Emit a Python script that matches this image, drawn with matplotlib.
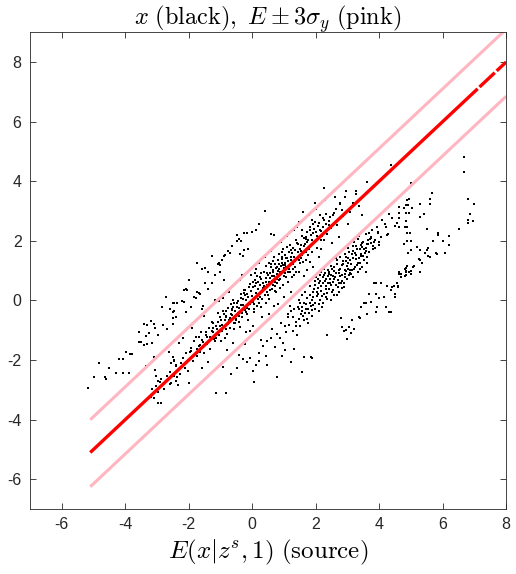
import numpy as np
import matplotlib
matplotlib.use('Agg')
import matplotlib.pyplot as plt

plt.rcParams['mathtext.fontset'] = 'cm'
plt.rcParams['font.family'] = ['Liberation Sans', 'DejaVu Sans']
plt.rcParams['axes.unicode_minus'] = False

# samples x against E(x|z^s,1) (a thinned-out copy)
# main band, along the diagonal
main_pts = [
    (-0.23, 0.34), (0.47, 0.91), (1.12, 0.96), (-0.84, -0.53), (0.05, -0.27), (1.63, 2.08), (-1.27, -1.04), (0.81, 1.36), (0.26, 0.12), (-0.52, -0.61),
    (2.14, 2.37), (-1.93, -1.58), (1.36, 1.32), (0.63, 0.38), (-0.08, 0.54), (-2.41, -2.17), (0.87, 0.73), (1.82, 2.46), (-0.66, -0.13), (0.24, 0.77),
    (-1.13, -1.26), (2.58, 2.94), (1.21, 1.69), (-0.37, -0.88), (0.42, 0.63), (-1.62, -1.07), (0.97, 0.52), (0.14, -0.18), (2.27, 2.03), (-0.91, -0.34),
    (1.54, 1.87), (-2.03, -2.36), (0.72, 1.23), (-0.28, 0.04), (1.88, 1.61), (-1.43, -1.47), (0.03, 0.44), (2.76, 3.27), (-2.68, -2.53), (1.33, 0.86),
    (0.51, 0.17), (-0.57, -0.97), (1.74, 2.31), (-0.98, -0.64), (0.18, 0.06), (2.42, 2.66), (-1.77, -1.24), (0.93, 1.47), (-0.16, -0.46), (1.07, 1.43),
    (-2.96, -3.08), (0.58, 1.13), (-0.49, -0.22), (2.04, 2.17), (-1.22, -0.76), (1.38, 2.02), (0.33, 0.57), (-2.17, -1.93), (0.76, 0.28), (-0.79, -1.12),
    (1.57, 1.53), (0.09, 0.68), (-1.53, -1.77), (2.23, 2.76), (0.44, -0.07), (-0.12, 0.13), (1.03, 1.18), (-2.47, -2.04), (1.78, 1.73), (-0.73, -0.67),
    (0.68, 0.83), (3.07, 2.97), (-1.68, -1.53), (1.24, 0.77), (-0.33, -0.57), (0.54, 1.27), (2.47, 2.43), (-1.04, -1.16), (1.52, 1.24), (-0.03, 0.87),
    (-2.13, -2.27), (0.86, 1.04), (-0.62, 0.03), (1.93, 2.57), (-1.33, -1.63), (0.17, 0.37), (2.67, 2.53), (-0.43, -0.26), (1.28, 1.77), (-2.87, -2.63),
    (0.62, 0.66), (-0.94, -0.83), (1.69, 1.37), (0.28, -0.23), (-1.58, -1.34), (2.13, 2.86), (1.14, 0.63), (-0.24, 0.17), (-1.07, -0.43), (0.83, 1.57),
    (1.43, 1.64), (-0.54, -0.37), (2.33, 2.58), (-2.27, -2.46), (0.37, 0.97), (-0.77, -0.24), (1.62, 1.83), (0.07, -0.38), (-1.37, -0.93), (3.27, 3.56),
    (0.73, 0.47), (-0.06, -0.13), (0.98, 1.72), (-1.87, -2.03), (2.03, 1.76), (0.48, 0.53), (-0.68, -0.44), (1.17, 1.07), (-2.57, -2.77), (0.92, 1.16),
    (-0.27, 0.36), (1.77, 2.04), (-1.18, -1.37), (0.23, 0.23), (2.63, 3.07), (-0.58, -0.77), (1.47, 1.36), (-0.02, 0.16), (-1.73, -1.87), (0.57, 0.93),
    (2.18, 2.33), (-1.02, -0.87), (1.27, 1.23), (-0.36, 0.07), (0.78, 0.57), (-1.97, -1.73), (1.72, 1.97), (0.32, 0.27), (-0.87, -1.27), (2.87, 2.83),
    (1.08, 1.13), (-0.17, -0.24), (-1.47, -1.17), (0.43, 0.76), (1.92, 2.27), (-0.53, -0.76), (1.04, 0.93), (-2.77, -2.97), (0.67, 1.03), (-1.28, -0.73),
    (1.37, 0.97), (0.12, 0.26), (2.37, 2.24), (-0.71, -0.93), (0.88, 0.43), (-1.83, -1.36), (1.58, 2.37), (-0.13, -0.67), (0.53, 0.04), (1.97, 2.63),
    (-1.12, -0.97), (1.23, 1.47), (-0.32, -0.43), (0.79, 0.88), (-2.37, -2.57), (1.83, 1.28), (0.19, 0.63), (-0.83, -0.57), (1.53, 1.67), (-1.63, -1.73),
    (0.64, 0.97), (2.53, 2.87), (0.02, -0.04), (-1.23, -1.07), (1.02, 1.53), (-0.63, -0.27), (1.32, 1.47), (0.27, 0.93), (-2.08, -1.77), (1.68, 1.63),
    (-0.42, -0.73), (0.71, 0.33), (2.24, 2.47), (-1.42, -1.23), (0.94, 1.27), (-0.88, -0.47), (1.13, 1.33), (0.38, 0.42), (-3.17, -2.96), (2.83, 3.03),
    (-0.21, 0.03), (1.48, 0.97), (0.08, 0.92), (-0.97, -1.37), (1.87, 2.03), (0.61, 0.62), (-1.67, -1.23), (1.18, 1.87), (-0.47, -0.07), (0.77, 1.13),
    (-0.31, 0.87), (0.52, -0.47), (1.64, 0.83), (-1.17, 0.03), (2.02, 3.07), (-2.32, -1.43), (0.91, 1.97), (-0.78, -1.67), (1.31, 2.37), (-1.52, -0.53),
    (2.72, 2.13), (0.21, 1.27), (-0.61, -1.43), (1.79, 2.86), (0.04, -0.87), (-1.88, -0.93), (2.28, 3.37), (1.01, 0.13), (-2.63, -1.73), (0.39, 1.46),
    (2.97, 3.67), (-0.07, -1.03), (1.42, 2.47), (-1.03, -0.03), (2.52, 1.93), (-3.07, -2.33), (0.69, -0.17), (1.73, 1.03), (-0.38, 0.67), (2.12, 1.47),
    (-1.98, -2.77), (1.09, 2.17), (-1.32, -0.23), (0.31, -0.57), (2.92, 3.47), (-0.72, 0.27), (1.49, 2.63), (-1.57, -2.27), (0.82, -0.13), (3.37, 3.17),
    (0.13, 1.07), (-2.18, -1.27), (1.91, 1.13), (-0.92, 0.07), (2.61, 3.47), (-1.38, -2.07), (0.59, 1.67), (-0.18, -1.07), (1.22, 0.27), (2.17, 1.73),
    (2.27, 3.77), (3.28, 3.67), (3.62, 3.97), (4.38, 4.53), (2.78, 3.23), (3.17, 3.27), (1.59, 2.97), (1.98, 3.27), (3.03, 2.57), (3.47, 2.87),
    (-3.02, -2.53), (-2.98, -2.71), (-2.9, -2.75), (-3.04, -2.86), (-3.2, -3.25), (-3.1, -3.27), (-2.96, -3.45), (-2.88, -3.43),
    (-2.5, -1.9), (-2.45, -2.0), (-2.55, -2.1), (-2.4, -2.2), (-2.6, -2.4), (-2.45, -2.55), (-2.4, -2.7), (-2.6, -2.8), (-2.35, -2.85),
    (-0.15, 0.21), (0.36, 0.48), (0.95, 1.38), (1.45, 1.88), (-0.65, -0.48), (0.11, 0.58), (0.66, 1.34), (1.26, 1.58), (-1.08, -0.71), (0.46, 0.29),
    (1.86, 2.18), (-0.44, -0.02), (0.29, 0.71), (1.06, 0.78), (-1.34, -1.21), (0.74, 1.09), (1.56, 2.17), (-0.24, -0.31), (0.16, 0.14), (2.06, 2.49),
    (-0.86, -0.66), (0.56, 0.76), (1.16, 1.61), (-1.54, -1.41), (0.84, 0.69), (1.66, 1.91), (-0.04, 0.31), (0.41, 0.17), (2.26, 2.71), (-0.56, -0.09),
    (0.96, 1.18), (1.36, 1.11), (-1.24, -0.92), (0.06, -0.11), (1.76, 1.52), (-0.34, -0.16), (0.61, 0.81), (2.46, 2.81), (-0.76, -0.79), (1.11, 1.79),
    (0.34, 0.43), (-1.94, -1.71), (0.89, 0.96), (1.46, 1.49), (-0.11, 0.46), (0.69, 1.47), (1.94, 2.41), (-0.64, -0.31), (0.21, -0.09), (1.29, 1.04),
    (-1.44, -1.06), (0.54, 0.63), (2.16, 2.04), (-0.26, 0.24), (1.04, 1.26), (-0.94, -1.02), (0.44, 1.16), (1.71, 2.14), (-0.41, -0.51), (0.79, 0.72),
    (1.51, 1.71), (-1.14, -0.86), (0.09, 0.48), (2.31, 2.91), (-0.69, -0.59), (0.99, 0.81), (1.21, 1.36), (-0.19, -0.39), (0.64, 0.51), (1.84, 1.86),
    (-1.64, -1.49), (0.26, 0.52), (1.41, 1.93), (-0.51, -0.67), (0.86, 1.21), (2.01, 2.31), (-0.84, -0.36), (0.14, 0.83), (1.61, 1.29), (-0.29, -0.14),
    (0.49, 0.86), (1.09, 1.42), (-2.24, -2.11), (0.71, 0.61), (1.89, 2.71), (-0.09, -0.27), (0.39, 0.19), (2.41, 2.53), (-1.19, -1.29), (0.94, 1.61),
    (1.34, 1.69), (-0.59, -0.21), (0.19, 0.39), (1.69, 2.06), (-1.01, -0.54), (0.59, 1.21), (2.11, 2.61), (-0.46, -0.41), (1.19, 0.94), (0.01, 0.61),
    (-1.74, -1.64), (0.81, 0.99), (1.54, 1.42), (-0.36, 0.21), (0.31, 0.04), (2.21, 2.16), (-0.81, -0.97), (1.01, 1.09), (0.56, 0.34), (1.81, 2.36),
]

# second band, under the lower pink line
lower_pts = [
    (2.03, 0.14), (2.47, 0.87), (3.12, 1.23), (1.68, -0.27), (2.83, 0.66), (3.46, 1.93), (1.17, -0.83), (2.24, 0.57), (2.96, 1.47), (1.92, -0.16),
    (2.63, 0.53), (3.71, 2.06), (0.78, -1.13), (2.27, 0.23), (3.33, 1.27), (1.53, -0.47), (2.87, 1.33), (3.88, 2.04), (1.04, -0.87), (2.38, 0.83),
    (3.17, 1.66), (1.83, 0.17), (2.72, 0.93), (3.63, 1.47), (0.47, -1.37), (2.13, 0.03), (3.37, 2.17), (1.43, -0.23), (2.52, 0.27), (3.82, 1.73),
    (1.63, -0.66), (2.77, 1.07), (3.04, 0.87), (1.97, 0.53), (1.12, -0.57), (3.53, 1.36), (2.31, 0.73), (1.27, -1.03), (2.58, 1.13), (3.97, 2.27),
    (1.73, 0.07), (2.93, 0.77), (3.23, 1.13), (0.23, -1.77), (2.17, 0.33), (3.67, 1.63), (1.87, -0.53), (2.68, 1.37), (3.28, 1.83), (1.23, -0.37),
    (2.43, 0.37), (3.58, 2.23), (0.87, -1.27), (2.08, 0.73), (3.13, 1.57), (1.48, 0.03), (2.82, 0.43), (4.17, 2.57), (1.78, -0.43), (2.53, 0.63),
    (3.43, 1.57), (0.62, -0.97), (1.98, -0.27), (3.03, 1.77), (1.37, -0.73), (2.62, 0.77), (3.77, 2.37), (2.18, 0.97), (0.97, -1.43), (3.18, 1.43),
    (2.37, 0.04), (1.62, -0.07), (3.48, 1.97), (2.92, 1.03), (0.33, -1.53), (2.07, 0.43), (3.62, 1.27), (1.72, -0.63), (2.73, 0.57), (3.92, 2.47),
    (1.32, -0.27), (2.28, 0.93), (3.08, 0.93), (1.93, 0.27), (0.73, -1.57), (2.78, 1.47), (3.32, 0.97), (2.02, 0.77), (1.08, -1.07), (3.73, 1.93),
    (2.48, 1.17), (1.52, -0.87), (3.02, 1.07), (2.23, -0.07), (4.07, 2.13), (1.82, 0.47), (2.57, 0.17), (3.38, 1.07), (-0.17, -2.07), (2.42, 0.97),
    (1.18, -0.17), (3.22, 1.97), (2.88, 0.57), (1.58, -0.37), (3.52, 1.73), (2.12, -0.37), (0.43, -1.87), (2.67, 1.23), (3.83, 1.97), (1.42, -1.17),
    (2.32, 0.47), (2.98, 0.73), (1.88, 0.03), (3.57, 1.77), (0.92, -0.77), (2.63, 1.43), (3.27, 1.53), (1.97, -0.07), (1.03, -1.67), (4.27, 2.23),
    (2.82, 0.87), (1.67, 0.27), (3.07, 1.37), (2.38, 0.57), (0.13, -2.17), (3.87, 1.77), (1.28, -0.57), (2.47, 0.03), (3.42, 1.87), (2.22, 0.77),
    (1.77, -0.77), (3.68, 2.27), (2.92, 1.57), (0.58, -1.27), (2.03, 0.27), (3.17, 0.77), (1.47, -0.27), (2.73, 0.27), (3.47, 1.13), (1.13, -0.47),
    (2.27, 1.07), (3.03, 1.27), (3.98, 1.87), (1.57, 0.17), (2.57, 0.73), (-0.47, -2.27), (3.33, 2.07), (2.13, 0.87), (1.37, -0.87), (3.57, 0.97),
    (-0.42, -1.83), (-0.08, -1.94), (0.22, -2.03), (0.47, -2.18), (0.02, -2.35), (-0.28, -1.97), (0.06, -2.75), (-1.13, -3.12), (-0.82, -3.12),
    (0.78, -2.57), (1.23, -2.08), (1.88, -1.93), (-0.67, -2.48), (0.28, -1.33), (-0.22, -1.47), (0.93, -1.87), (1.32, -1.62), (-0.93, -2.23),
    (4.85, 3.2), (4.3, 2.9), (4.4, 2.75), (4.55, 2.6), (4.5, 2.5), (4.1, 2.7), (4.2, 2.45), (3.95, 2.3), (4.25, 2.2),
    (3.75, 2.1), (3.65, 1.9), (4.0, 1.95), (3.6, 1.75), (3.45, 1.8),
    (4.25, 0.5), (4.4, 0.45), (4.56, 0.57), (4.5, 0.23), (4.15, 0.1), (4.3, -0.4), (3.9, 0.57), (4.0, 0.07), (3.68, 0.23),
    (3.58, -0.1), (3.62, -0.44), (3.43, -0.23), (3.36, -0.57), (3.15, -0.67), (3.05, -0.9), (2.95, -1.0), (2.8, -0.6),
    (2.83, -0.9), (2.36, -1.17), (1.86, -1.9), (1.64, -1.9), (1.57, -2.4), (3.84, 0.6), (4.06, 0.6), (4.47, 0.5), (4.6, 0.44),
    (4.37, 0.34), (3.9, 0.23), (4.5, 0.1), (3.74, -0.06), (3.52, -0.1), (3.93, -0.22), (4.2, -0.22), (4.37, -0.4),
    (3.9, -0.4), (3.4, -0.6), (2.9, -1.04), (3.2, -0.97), (3.1, -1.1), (3.0, -1.28), (4.7, 0.77), (4.84, 0.84), (5.0, 0.9),
    (4.62, 0.9),
    (2.16, 0.48), (2.74, 1.02), (3.26, 1.38), (1.86, -0.18), (2.44, 0.71), (3.09, 1.02), (2.56, 0.36), (1.96, 0.38), (3.41, 1.71), (2.34, 0.12),
    (2.86, 1.22), (1.56, -0.22), (3.19, 1.84), (2.64, 0.92), (2.09, -0.12), (3.54, 1.58), (2.26, 0.84), (2.96, 0.98), (1.76, -0.28), (3.36, 1.42),
    (2.49, 0.52), (2.81, 0.58), (3.66, 2.02), (2.19, 0.16), (1.66, -0.42), (3.01, 1.44), (2.69, 0.68), (3.29, 1.18), (2.41, 0.88), (1.91, 0.12),
    (3.79, 1.84), (2.59, 0.98), (2.11, 0.58), (3.14, 1.02), (2.94, 1.32), (1.46, -0.62), (3.49, 1.48), (2.36, 0.26), (2.76, 0.82), (3.06, 1.62),
    (1.81, -0.08), (2.51, 1.04), (3.24, 1.58), (2.29, 0.64), (2.89, 0.44), (3.59, 1.66), (1.99, 0.64), (2.66, 0.18), (3.39, 1.26), (2.21, -0.22),
    (1.71, -0.12), (3.11, 0.88), (2.46, 0.58), (2.84, 1.18), (3.74, 2.12), (1.61, -0.52), (2.31, 0.38), (2.99, 1.16), (3.31, 1.72), (2.06, 0.22),
    (2.71, 0.44), (1.89, -0.32), (3.44, 1.48), (2.54, 0.82), (3.21, 1.06), (1.51, -0.08), (2.39, 1.02), (2.91, 0.88), (3.61, 1.88), (2.14, 0.66),
]

# sparse group up and to the left of the upper pink line
left_pts = [
    (-5.16, -2.95), (-4.97, -2.58), (-4.84, -2.1), (-4.62, -2.58), (-4.6, -2.65), (-4.5, -2.28), (-4.3, -2.45), (-4.2, -1.95),
    (-4.08, -1.98), (-4.08, -2.42), (-3.96, -1.74), (-3.84, -1.8), (-3.8, -1.78), (-3.87, -2.45), (-3.58, -1.38), (-3.5, -1.4),
    (-3.55, -1.07), (-3.4, -0.8), (-3.3, -0.84), (-3.18, -0.7), (-3.08, -0.8), (-3.05, -0.94), (-3.24, -1.1), (-3.33, -1.2),
    (-3.4, -1.5), (-3.3, -1.47), (-3.15, -1.44), (-2.96, -1.17), (-2.8, -0.84), (-2.67, -0.97), (-2.48, -0.78), (-3.08, -1.9),
    (-3.36, -2.2), (-2.7, 0.1), (-2.5, -0.1), (-2.45, -0.08), (-2.38, -0.1), (-2.83, -0.23), (-2.6, -0.3), (-2.5, -0.4),
    (-2.45, -0.35), (-2.4, -0.55), (-2.5, -0.6),
    (0.4, 3.0), (0.22, 2.58), (0.12, 2.38), (0.0, 2.28), (-0.15, 2.25), (-0.25, 2.25), (-0.47, 2.18), (-0.4, 2.07),
    (-0.47, 2.0), (-0.35, 2.0), (-0.12, 1.74), (-0.25, 1.7), (-0.37, 1.57), (-0.3, 1.5), (-0.63, 1.84), (-0.75, 1.65),
    (-0.7, 1.6), (-0.85, 1.53), (-0.88, 1.5), (-0.94, 1.37), (-1.03, 1.27), (-1.0, 1.2), (-1.08, 1.22), (-1.25, 1.5),
    (-1.0, 0.97), (-1.16, 0.87), (-1.4, 0.94), (-1.57, 1.07), (-1.5, 1.1), (-1.73, 1.24), (-0.9, 0.67), (-1.25, 0.57),
    (-1.4, 0.4), (-1.5, 0.6), (-1.73, 0.27), (-1.68, 0.25), (-1.63, 0.2), (-1.98, 0.7), (-2.1, 0.37), (-2.15, 0.36),
    (-2.05, 0.35), (-1.82, 0.1), (-1.78, 0.08), (-2.2, -0.03), (-2.16, -0.05), (-1.57, -0.27), (-1.55, -0.2), (-1.92, -0.23),
    (-2.08, -0.4), (0.69, 2.2), (0.6, 2.23),
]

# sparse group on the right
right_pts = [
    (6.67, 4.8), (6.67, 4.3), (6.8, 3.4), (7.0, 3.25), (6.85, 2.9), (6.8, 2.7), (6.95, 2.65), (6.8, 2.6), (6.5, 2.4),
    (5.66, 3.6), (5.6, 3.4), (5.6, 3.25), (5.3, 3.25), (5.4, 2.9), (5.3, 2.8), (5.5, 2.4), (5.85, 2.25), (5.85, 2.2),
    (6.2, 2.15), (6.0, 2.0), (5.7, 2.0), (6.2, 1.85), (6.07, 1.6), (5.0, 2.0), (5.2, 1.8), (5.3, 1.7), (5.55, 1.75),
    (5.5, 1.7), (5.45, 1.6), (5.8, 1.6), (5.82, 1.55), (5.55, 1.5), (5.6, 1.45), (5.0, 1.7), (4.9, 1.6), (5.25, 1.4),
    (5.3, 1.35), (5.35, 1.25), (5.3, 0.97), (5.1, 1.15), (5.08, 1.13), (4.88, 1.15), (4.85, 1.1), (4.8, 1.05), (4.85, 1.0),
    (4.62, 0.95), (4.85, 0.95), (4.95, 0.95), (5.0, 1.0), (4.82, 0.82), (4.7, 0.9), (4.6, 0.5),
    (4.87, 3.36), (4.94, 3.39), (5.03, 3.09), (4.9, 3.19), (4.78, 3.09), (4.62, 3.12), (4.84, 2.95), (4.94, 2.92),
    (4.84, 2.65), (4.62, 2.92), (4.62, 2.75), (4.81, 2.48), (4.87, 2.45), (4.62, 2.45), (4.87, 2.25), (4.97, 2.25),
    (4.87, 2.0), (4.78, 1.88), (5.0, 3.93),
]

# E(x|z^s,1) and the E +/- 3 sigma_y band
line_x = [-5.1, 7.1, np.nan, 7.16, 7.64, np.nan, 7.7, 8.0]
line_y = [-5.1, 7.1, np.nan, 7.16, 7.64, np.nan, 7.7, 8.0]
band_x = [-5.1, 8.0]
upper_y = [-4.0, 9.1]
lower_y = [-6.25, 6.85]

x_ticks = [-6, -4, -2, 0, 2, 4, 6, 8]
y_ticks = [-6, -4, -2, 0, 2, 4, 6, 8]

fig = plt.figure(figsize=(5.16, 5.74), dpi=100)
ax = fig.add_axes([0.058, 0.113, 0.923, 0.831])

for pts in (main_pts, lower_pts, left_pts, right_pts):
    a = np.array(pts)
    ax.plot(a[:, 0], a[:, 1], 's', color='k', ms=1.9, mew=0)

ax.plot(band_x, upper_y, color='#ffb6c1', lw=2.2, solid_capstyle='butt')
ax.plot(band_x, lower_y, color='#ffb6c1', lw=2.2, solid_capstyle='butt')
ax.plot(line_x, line_y, color='red', lw=2.4, solid_capstyle='butt')

ax.set_xlim(-7, 8)
ax.set_ylim(-7, 9)
ax.set_xticks(x_ticks)
ax.set_yticks(y_ticks)
ax.tick_params(direction='in', top=True, right=True, length=4, width=0.6,
               colors='#262626', labelsize=11.5, pad=6)
for s in ax.spines.values():
    s.set_color('#262626')
    s.set_linewidth(0.6)

ax.set_title(r'$x\ \mathrm{(black)},\ E\pm3\sigma_y\ \mathrm{(pink)}$', fontsize=17.5, pad=5)
ax.set_xlabel(r'$E(x|z^s,1)\ \mathrm{(source)}$', fontsize=18, labelpad=4)

fig.savefig('out.png', dpi=100)
